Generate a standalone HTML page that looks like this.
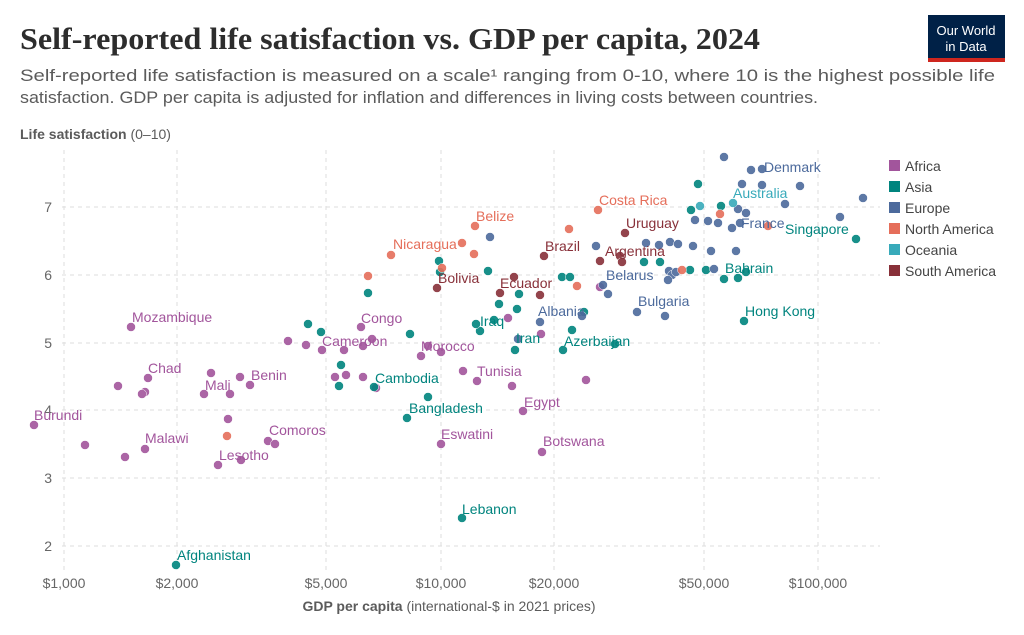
<!DOCTYPE html>
<html><head><meta charset="utf-8"><style>
body{margin:0;background:#fff;}
svg{display:block;font-family:"Liberation Sans",sans-serif;}
</style></head><body>
<svg width="1024" height="635" viewBox="0 0 1024 635">
<text x="20" y="49" font-family="Liberation Serif,serif" font-size="31" font-weight="bold" fill="#2d2d2d" textLength="740" lengthAdjust="spacingAndGlyphs">Self-reported life satisfaction vs. GDP per capita, 2024</text>
<text x="20" y="81" font-size="16.5" fill="#5b5b5b" textLength="975" lengthAdjust="spacingAndGlyphs">Self-reported life satisfaction is measured on a scale¹ ranging from 0-10, where 10 is the highest possible life</text>
<text x="20" y="103" font-size="16.5" fill="#5b5b5b" textLength="798" lengthAdjust="spacingAndGlyphs">satisfaction. GDP per capita is adjusted for inflation and differences in living costs between countries.</text>
<rect x="928" y="15" width="77" height="47" fill="#002147"/>
<rect x="928" y="58" width="77" height="4" fill="#ce261e"/>
<text x="966" y="35" font-size="13" fill="#fff" text-anchor="middle">Our World</text>
<text x="966" y="51" font-size="13" fill="#fff" text-anchor="middle">in Data</text>
<text x="20" y="139" font-size="14" fill="#5b5b5b"><tspan font-weight="bold">Life satisfaction</tspan> (0–10)</text>
<g stroke="#ddd" stroke-dasharray="4,4" stroke-width="1">
<line x1="62" x2="880" y1="207" y2="207"/><line x1="62" x2="880" y1="275" y2="275"/><line x1="62" x2="880" y1="343" y2="343"/><line x1="62" x2="880" y1="410" y2="410"/><line x1="62" x2="880" y1="478" y2="478"/><line x1="62" x2="880" y1="546" y2="546"/>
<line x1="64" x2="64" y1="150" y2="572"/><line x1="177" x2="177" y1="150" y2="572"/><line x1="326" x2="326" y1="150" y2="572"/><line x1="441" x2="441" y1="150" y2="572"/><line x1="554" x2="554" y1="150" y2="572"/><line x1="704" x2="704" y1="150" y2="572"/><line x1="818" x2="818" y1="150" y2="572"/>
</g>
<g font-size="14" fill="#666" text-anchor="end">
<text x="52" y="212">7</text><text x="52" y="280">6</text><text x="52" y="348">5</text><text x="52" y="415">4</text><text x="52" y="483">3</text><text x="52" y="551">2</text>
</g>
<g font-size="14" fill="#666" text-anchor="middle">
<text x="64" y="588">$1,000</text><text x="177" y="588">$2,000</text><text x="326" y="588">$5,000</text><text x="441" y="588">$10,000</text><text x="554" y="588">$20,000</text><text x="704" y="588">$50,000</text><text x="818" y="588">$100,000</text>
</g>
<text x="449" y="611" font-size="14" fill="#5b5b5b" text-anchor="middle"><tspan font-weight="bold">GDP per capita</tspan> (international-$ in 2021 prices)</text>

<g fill="#a2559c" stroke="#fff" stroke-width="0.5" opacity="0.9">
<circle cx="34" cy="425" r="4.5"/><circle cx="145" cy="449" r="4.5"/><circle cx="131" cy="327" r="4.5"/><circle cx="148" cy="378" r="4.5"/><circle cx="250" cy="385" r="4.5"/><circle cx="361" cy="327" r="4.5"/><circle cx="421" cy="356" r="4.5"/><circle cx="477" cy="381" r="4.5"/><circle cx="523" cy="411" r="4.5"/><circle cx="441" cy="444" r="4.5"/><circle cx="542" cy="452" r="4.5"/><circle cx="218" cy="465" r="4.5"/>
<circle cx="85" cy="445" r="4.5"/><circle cx="125" cy="457" r="4.5"/><circle cx="118" cy="386" r="4.5"/><circle cx="145" cy="392" r="4.5"/><circle cx="142" cy="394" r="4.5"/><circle cx="211" cy="373" r="4.5"/><circle cx="240" cy="377" r="4.5"/><circle cx="204" cy="394" r="4.5"/><circle cx="228" cy="419" r="4.5"/><circle cx="230" cy="394" r="4.5"/><circle cx="241" cy="460" r="4.5"/><circle cx="268" cy="441" r="4.5"/><circle cx="275" cy="444" r="4.5"/><circle cx="288" cy="341" r="4.5"/><circle cx="306" cy="345" r="4.5"/><circle cx="322" cy="350" r="4.5"/><circle cx="344" cy="350" r="4.5"/><circle cx="335" cy="377" r="4.5"/><circle cx="346" cy="375" r="4.5"/><circle cx="363" cy="377" r="4.5"/><circle cx="376" cy="388" r="4.5"/><circle cx="363" cy="346" r="4.5"/><circle cx="372" cy="339" r="4.5"/><circle cx="428" cy="346" r="4.5"/><circle cx="441" cy="352" r="4.5"/><circle cx="463" cy="371" r="4.5"/><circle cx="508" cy="318" r="4.5"/><circle cx="512" cy="386" r="4.5"/><circle cx="541" cy="334" r="4.5"/><circle cx="586" cy="380" r="4.5"/><circle cx="600" cy="287" r="4.5"/>
</g>
<g fill="#00847e" stroke="#fff" stroke-width="0.5" opacity="0.9">
<circle cx="176" cy="565" r="4.5"/><circle cx="462" cy="518" r="4.5"/><circle cx="407" cy="418" r="4.5"/><circle cx="428" cy="397" r="4.5"/><circle cx="374" cy="387" r="4.5"/><circle cx="480" cy="331" r="4.5"/><circle cx="515" cy="350" r="4.5"/><circle cx="563" cy="350" r="4.5"/><circle cx="615" cy="344" r="4.5"/><circle cx="744" cy="321" r="4.5"/><circle cx="724" cy="279" r="4.5"/><circle cx="856" cy="239" r="4.5"/>
<circle cx="308" cy="324" r="4.5"/><circle cx="321" cy="332" r="4.5"/><circle cx="339" cy="386" r="4.5"/><circle cx="341" cy="365" r="4.5"/><circle cx="410" cy="334" r="4.5"/><circle cx="368" cy="293" r="4.5"/><circle cx="439" cy="261" r="4.5"/><circle cx="440" cy="272" r="4.5"/><circle cx="488" cy="271" r="4.5"/><circle cx="499" cy="304" r="4.5"/><circle cx="476" cy="324" r="4.5"/><circle cx="494" cy="320" r="4.5"/><circle cx="517" cy="309" r="4.5"/><circle cx="519" cy="294" r="4.5"/><circle cx="562" cy="277" r="4.5"/><circle cx="570" cy="277" r="4.5"/><circle cx="572" cy="330" r="4.5"/><circle cx="584" cy="312" r="4.5"/><circle cx="644" cy="262" r="4.5"/><circle cx="660" cy="262" r="4.5"/><circle cx="690" cy="270" r="4.5"/><circle cx="698" cy="184" r="4.5"/><circle cx="706" cy="270" r="4.5"/><circle cx="691" cy="210" r="4.5"/><circle cx="721" cy="206" r="4.5"/><circle cx="738" cy="278" r="4.5"/><circle cx="746" cy="272" r="4.5"/>
</g>
<g fill="#4c6a9c" stroke="#fff" stroke-width="0.5" opacity="0.9">
<circle cx="762" cy="169" r="4.5"/><circle cx="740" cy="223" r="4.5"/><circle cx="637" cy="312" r="4.5"/><circle cx="603" cy="285" r="4.5"/><circle cx="540" cy="322" r="4.5"/>
<circle cx="724" cy="157" r="4.5"/><circle cx="751" cy="170" r="4.5"/><circle cx="800" cy="186" r="4.5"/><circle cx="863" cy="198" r="4.5"/><circle cx="840" cy="217" r="4.5"/><circle cx="785" cy="204" r="4.5"/><circle cx="742" cy="184" r="4.5"/><circle cx="762" cy="185" r="4.5"/><circle cx="695" cy="220" r="4.5"/><circle cx="708" cy="221" r="4.5"/><circle cx="738" cy="209" r="4.5"/><circle cx="746" cy="213" r="4.5"/><circle cx="718" cy="223" r="4.5"/><circle cx="670" cy="242" r="4.5"/><circle cx="678" cy="244" r="4.5"/><circle cx="693" cy="246" r="4.5"/><circle cx="669" cy="271" r="4.5"/><circle cx="672" cy="275" r="4.5"/><circle cx="676" cy="272" r="4.5"/><circle cx="711" cy="251" r="4.5"/><circle cx="736" cy="251" r="4.5"/><circle cx="668" cy="280" r="4.5"/><circle cx="665" cy="316" r="4.5"/><circle cx="608" cy="294" r="4.5"/><circle cx="596" cy="246" r="4.5"/><circle cx="490" cy="237" r="4.5"/><circle cx="518" cy="339" r="4.5"/><circle cx="582" cy="316" r="4.5"/><circle cx="646" cy="243" r="4.5"/><circle cx="659" cy="245" r="4.5"/><circle cx="732" cy="228" r="4.5"/><circle cx="714" cy="269" r="4.5"/>
</g>
<g fill="#e56e5a" stroke="#fff" stroke-width="0.5" opacity="0.9">
<circle cx="598" cy="210" r="4.5"/><circle cx="475" cy="226" r="4.5"/><circle cx="462" cy="243" r="4.5"/><circle cx="368" cy="276" r="4.5"/><circle cx="391" cy="255" r="4.5"/><circle cx="442" cy="268" r="4.5"/><circle cx="474" cy="254" r="4.5"/><circle cx="569" cy="229" r="4.5"/><circle cx="577" cy="286" r="4.5"/><circle cx="682" cy="270" r="4.5"/><circle cx="720" cy="214" r="4.5"/><circle cx="768" cy="226" r="4.5"/><circle cx="227" cy="436" r="4.5"/>
</g>
<g fill="#38aaba" stroke="#fff" stroke-width="0.5" opacity="0.9">
<circle cx="733" cy="203" r="4.5"/><circle cx="700" cy="206" r="4.5"/>
</g>
<g fill="#883039" stroke="#fff" stroke-width="0.5" opacity="0.9">
<circle cx="625" cy="233" r="4.5"/><circle cx="600" cy="261" r="4.5"/><circle cx="544" cy="256" r="4.5"/><circle cx="500" cy="293" r="4.5"/><circle cx="437" cy="288" r="4.5"/><circle cx="514" cy="277" r="4.5"/><circle cx="540" cy="295" r="4.5"/><circle cx="620" cy="256" r="4.5"/><circle cx="622" cy="262" r="4.5"/>
</g>

<g font-size="14">
<g fill="#a2559c">
<text x="34" y="420">Burundi</text><text x="145" y="443">Malawi</text><text x="132" y="322">Mozambique</text><text x="148" y="373">Chad</text><text x="205" y="390">Mali</text><text x="251" y="380">Benin</text><text x="361" y="323">Congo</text><text x="322" y="346">Cameroon</text><text x="421" y="351">Morocco</text><text x="477" y="376">Tunisia</text><text x="524" y="407">Egypt</text><text x="441" y="439">Eswatini</text><text x="543" y="446">Botswana</text><text x="269" y="435">Comoros</text><text x="219" y="460">Lesotho</text>
</g>
<g fill="#00847e">
<text x="177" y="560">Afghanistan</text><text x="462" y="514">Lebanon</text><text x="409" y="413">Bangladesh</text><text x="375" y="383">Cambodia</text><text x="480" y="326">Iraq</text><text x="516" y="343">Iran</text><text x="564" y="346">Azerbaijan</text><text x="745" y="316">Hong Kong</text><text x="725" y="273">Bahrain</text><text x="785" y="234">Singapore</text>
</g>
<g fill="#4c6a9c">
<text x="764" y="172">Denmark</text><text x="741" y="228">France</text><text x="638" y="306">Bulgaria</text><text x="606" y="280">Belarus</text><text x="538" y="316">Albania</text>
</g>
<g fill="#e56e5a">
<text x="599" y="205">Costa Rica</text><text x="476" y="221">Belize</text><text x="393" y="249">Nicaragua</text>
</g>
<g fill="#38aaba"><text x="733" y="198">Australia</text></g>
<g fill="#883039">
<text x="626" y="228">Uruguay</text><text x="605" y="256">Argentina</text><text x="545" y="251">Brazil</text><text x="500" y="288">Ecuador</text><text x="438" y="283">Bolivia</text>
</g>
</g>

<g font-size="14" fill="#444">
<rect x="889" y="160" width="11" height="11" fill="#a2559c"/><text x="905" y="171">Africa</text>
<rect x="889" y="181" width="11" height="11" fill="#00847e"/><text x="905" y="192">Asia</text>
<rect x="889" y="202" width="11" height="11" fill="#4c6a9c"/><text x="905" y="213">Europe</text>
<rect x="889" y="223" width="11" height="11" fill="#e56e5a"/><text x="905" y="234">North America</text>
<rect x="889" y="244" width="11" height="11" fill="#38aaba"/><text x="905" y="255">Oceania</text>
<rect x="889" y="265" width="11" height="11" fill="#883039"/><text x="905" y="276">South America</text>
</g>
</svg>
</body></html>
